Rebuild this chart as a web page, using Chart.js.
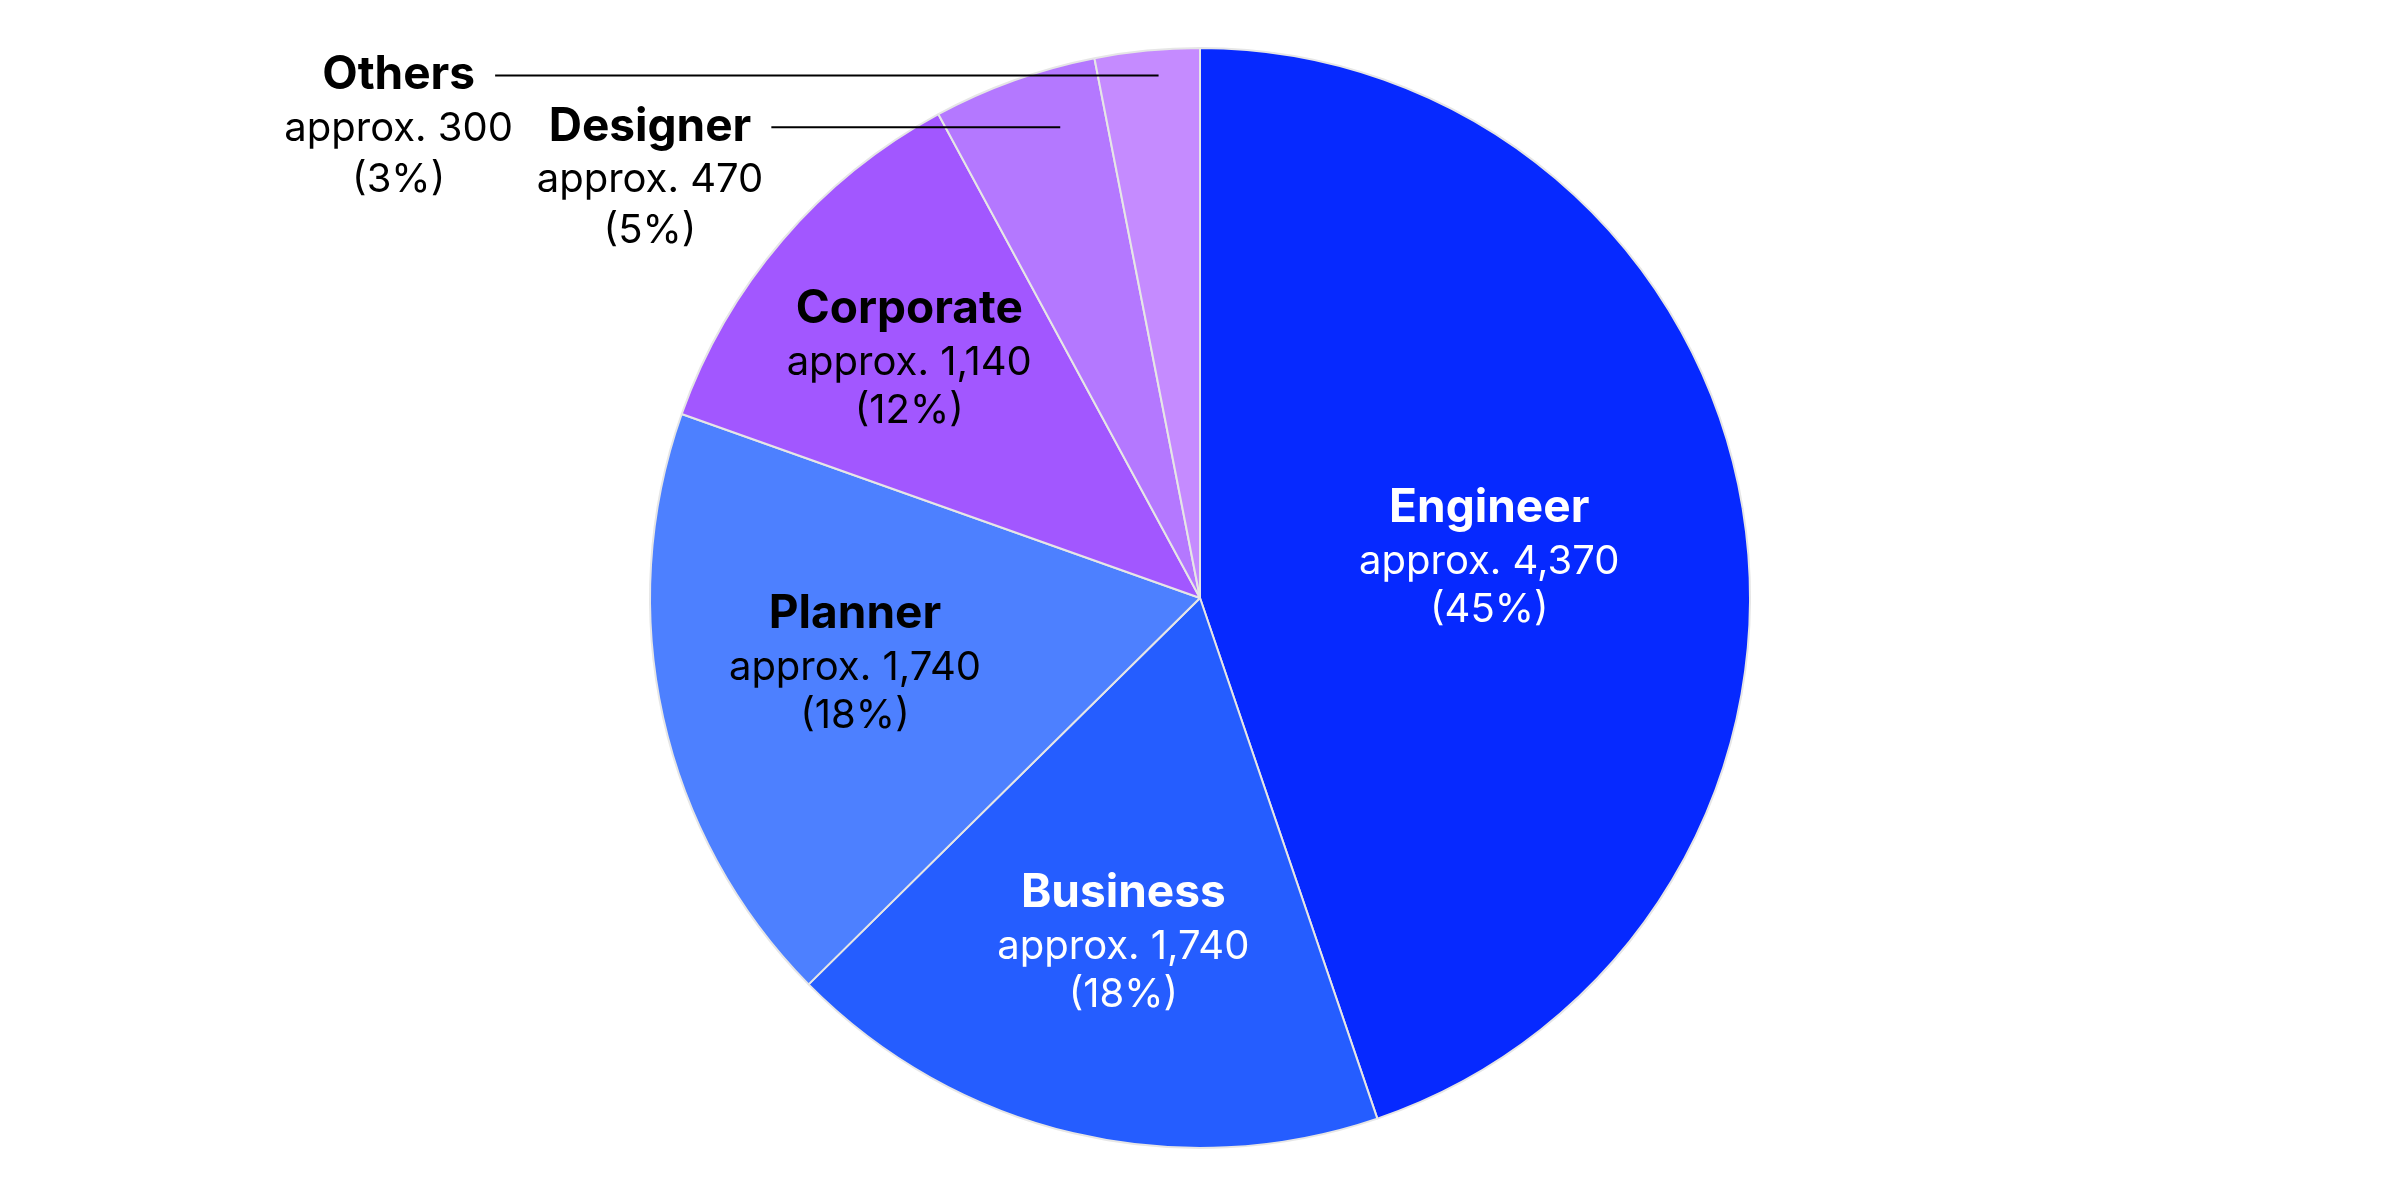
<!DOCTYPE html>
<html>
<head>
<meta charset="utf-8">
<script src="https://cdn.jsdelivr.net/npm/chart.js@4"></script>
<style>
  html, body { margin: 0; padding: 0; background: #fff; }
  #wrap { width: 2400px; height: 1200px; }
</style>
</head>
<body>
<div id="wrap"><canvas id="myChart" width="2400" height="1200"></canvas></div>
<script>
// data
const categories = ["Engineer", "Business", "Planner", "Corporate", "Designer", "Others"];
const counts = [4370, 1740, 1740, 1140, 470, 300];
const percents = [45, 18, 18, 12, 5, 3];
const sliceColors = ["#0629FF", "#255DFF", "#4D80FF", "#A257FF", "#B478FF", "#C58BFF"];

// label placement per slice (radius fraction, small angle nudge in degrees)
const labelLayout = [
  { r: 0.53, turn: 2.3, color: "#fff" },
  { r: 0.65, turn: -0.9, color: "#fff" },
  { r: 0.64, turn: 1.1, color: "#000" },
  { r: 0.68, turn: -1.6, color: "#000" },
  { r: 0.893, turn: 3.2, color: "#000", outside: true, textX: -1.0 },
  { r: 0.953, turn: 1.0, color: "#000", outside: true, textX: -1.457 },
];

const boldFont = "bold 46px Inter";
const regFont = "40px Inter";

function fmt(n) {
  return "approx. " + n.toLocaleString("en-US");
}

const labelPlugin = {
  id: "sliceLabels",
  afterDatasetsDraw(chart) {
    const ctx = chart.ctx;
    const arcs = chart.getDatasetMeta(0).data;
    ctx.save();
    ctx.textAlign = "center";
    ctx.textBaseline = "middle";
    arcs.forEach((arc, i) => {
      const p = arc.getProps(["x", "y", "startAngle", "endAngle", "outerRadius"], true);
      const lay = labelLayout[i];
      const mid = (p.startAngle + p.endAngle) / 2 + lay.turn * Math.PI / 180;
      const ax = p.x + Math.cos(mid) * p.outerRadius * lay.r;
      const ay = p.y + Math.sin(mid) * p.outerRadius * lay.r;
      ctx.fillStyle = lay.color;
      if (!lay.outside) {
        ctx.font = boldFont;
        ctx.fillText(categories[i], ax, ay - 54);
        ctx.font = regFont;
        ctx.fillText(fmt(counts[i]), ax, ay);
        ctx.fillText("(" + percents[i] + "%)", ax, ay + 48);
      } else {
        const tx = p.x + lay.textX * p.outerRadius;
        ctx.font = boldFont;
        ctx.fillText(categories[i], tx, ay);
        const w = ctx.measureText(categories[i]).width;
        ctx.font = regFont;
        ctx.fillText(fmt(counts[i]), tx, ay + 53);
        ctx.fillText("(" + percents[i] + "%)", tx, ay + 104);
        ctx.beginPath();
        ctx.strokeStyle = "#000";
        ctx.lineWidth = 2;
        ctx.moveTo(tx + w / 2 + 20, ay);
        ctx.lineTo(ax, ay);
        ctx.stroke();
      }
    });
    ctx.restore();
  },
};

function setup() {
  const ctx = document.getElementById("myChart").getContext("2d");
  new Chart(ctx, {
    type: "pie",
    data: {
      labels: categories,
      datasets: [
        {
          data: counts,
          backgroundColor: sliceColors,
          borderColor: "#e6e6e6",
          borderWidth: 2,
        },
      ],
    },
    options: {
      responsive: false,
      animation: false,
      layout: { padding: { top: 47, bottom: 51 } },
      plugins: {
        legend: { display: false },
        tooltip: { enabled: false },
      },
    },
    plugins: [labelPlugin],
  });
}

window.addEventListener("load", setup);
</script>
</body>
</html>
